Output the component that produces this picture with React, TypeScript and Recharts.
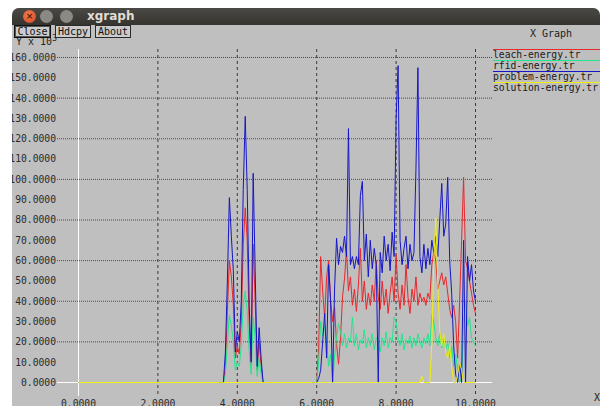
import React from "react";
import { LineChart, Line, XAxis, YAxis, CartesianGrid, Legend } from "recharts";

// simulation time (s)
const times = [
  0, 3.55, 3.6, 3.65, 3.7, 3.75, 3.8, 3.85, 3.9, 3.95,
  4, 4.05, 4.1, 4.15, 4.2, 4.25, 4.3, 4.35, 4.4, 4.45,
  4.5, 4.55, 4.6, 4.65, 4.7, 5.9,
  5.95, 6, 6.05, 6.1, 6.15, 6.2, 6.25, 6.3, 6.35, 6.4,
  6.45, 6.5, 6.55, 6.6, 6.65, 6.7, 6.75, 6.8, 6.85, 6.9,
  6.95, 7, 7.05, 7.1, 7.15, 7.2, 7.25, 7.3, 7.35, 7.4,
  7.45, 7.5, 7.55, 7.6, 7.65, 7.7, 7.75, 7.8, 7.85, 7.9,
  7.95, 8, 8.05, 8.1, 8.15, 8.2, 8.25, 8.3, 8.35, 8.4,
  8.45, 8.5, 8.55, 8.6, 8.65, 8.7, 8.75, 8.8, 8.85, 8.9,
  8.95, 9, 9.05, 9.1, 9.15, 9.2, 9.25, 9.3, 9.35, 9.4,
  9.45, 9.5, 9.55, 9.6, 9.65, 9.7, 9.75, 9.8, 9.85, 9.9,
  9.95, 10,
];

// energy values, Y x 10^3
const leach = [
  0, 0, 0, 0, 8, 35, 60, 52, 38, 12,
  18, 14, 30, 68, 86, 70, 28, 8, 68, 40,
  6, 20, 8, 0, 0, 0,
  0, 0, 17, 62, 45, 32, 52, 60, 40, 30,
  37, 19, 9, 22, 42, 51, 65, 45, 52, 38,
  46, 35, 48, 66, 40, 50, 36, 44, 38, 48,
  40, 60, 42, 36, 50, 38, 46, 34, 44, 52,
  40, 63, 44, 36, 48, 38, 58, 42, 34, 46,
  40, 52, 38, 44, 40, 42, 38, 44, 41, 58,
  64, 60, 46, 50, 54, 48, 52, 44, 36, 32,
  38, 30, 12, 40, 70, 101, 60, 56, 50, 44,
  38, 34,
];

const rfid = [
  0, 0, 0, 0, 4, 20, 33, 28, 20, 6,
  10, 8, 18, 38, 45, 35, 15, 4, 32, 22,
  3, 12, 4, 0, 0, 0,
  0, 0, 10, 30, 23, 28, 20, 8, 14, 0,
  13, 22, 29, 25, 18, 24, 17, 22, 20, 32,
  18, 24, 16, 21, 19, 26, 17, 22, 18, 24,
  16, 22, 20, 15, 22, 18, 25, 17, 22, 20,
  32, 30, 22, 18, 24, 16, 21, 19, 23, 17,
  22, 18, 24, 20, 17, 22, 19, 24, 18, 33,
  30, 22, 18, 24, 17, 22, 16, 20, 12, 18,
  8, 14, 6, 0, 2, 30, 40, 28, 32, 22,
  20, 18,
];

const problem = [
  0, 0, 0, 0, 15, 50, 91, 72, 55, 15,
  25, 20, 40, 95, 131, 95, 38, 10, 103, 55,
  8, 27, 12, 0, 0, 0,
  0, 0, 2, 6, 20, 34, 12, 58, 40, 0,
  46, 71, 58, 67, 64, 72, 62, 125, 58, 62,
  56, 62, 58, 92, 99, 60, 73, 52, 70, 56,
  66, 58, 0, 64, 54, 72, 60, 68, 55, 74,
  62, 130, 156, 70, 58, 66, 72, 56, 68, 60,
  64, 105, 155, 62, 54, 68, 56, 66, 58, 70,
  64, 72, 62, 80, 98, 72, 78, 101, 60, 44,
  18, 4, 0, 10, 0, 70, 0, 62, 50, 58,
  45, 40,
];

const solution = [
  0, 0, 0, 0, 0, 0, 0, 0, 0, 0,
  0, 0, 0, 0, 0, 0, 0, 0, 0, 0,
  0, 0, 0, 0, 0, 0,
  0, 0, 0, 0, 0, 0, 0, 0, 0, 0,
  0, 0, 0, 0, 0, 0, 0, 0, 0, 0,
  0, 0, 0, 0, 0, 0, 0, 0, 0, 0,
  0, 0, 0, 0, 0, 0, 0, 0, 0, 0,
  0, 0, 0, 0, 0, 0, 0, 0, 0, 0,
  0, 0, 0, 0, 3, 0, 0, 0, 0, 19,
  60, 81, 48, 25, 18, 24, 15, 12, 18, 8,
  0, 0, 4, 10, 6, 0, 0, 0, 0, 0,
  0, 0,
];

const seriesNames = ["leach-energy.tr", "rfid-energy.tr", "problem-energy.tr", "solution-energy.tr"];
const seriesKeys = ["leach", "rfid", "problem", "solution"];
const seriesColors = ["#e8282c", "#22e68c", "#1616c8", "#f0f010"];

const xTicks = [0, 2, 4, 6, 8, 10];
const yTicks = [0, 10, 20, 30, 40, 50, 60, 70, 80, 90, 100, 110, 120, 130, 140, 150, 160];

const data = times.map((t, i) => ({
  t,
  leach: leach[i],
  rfid: rfid[i],
  problem: problem[i],
  solution: solution[i],
}));

const mono = '"DejaVu Sans Mono", "Liberation Mono", monospace';

// keep xgraph's set order, not alphabetical
const renderLegend = (props: any) => {
  const items = [...(props.payload || [])].sort(
    (a: any, b: any) => seriesNames.indexOf(a.value) - seriesNames.indexOf(b.value)
  );
  return (
    <div style={{ font: `9.7px ${mono}`, color: "#1a1a1a" }}>
      {items.map((p: any) => (
        <div
          key={p.value}
          style={{
            borderTop: `1px solid ${seriesColors[seriesNames.indexOf(p.value)]}`,
            width: 107,
            height: 10,
            lineHeight: "9px",
            whiteSpace: "nowrap",
          }}
        >
          {p.value}
        </div>
      ))}
    </div>
  );
};

const btn: React.CSSProperties = {
  position: "absolute",
  top: 25,
  height: 11,
  border: "1px solid #2a2a2a",
  background: "#cbcbcb",
  font: `10px ${mono}`,
  lineHeight: "11px",
  color: "#111",
  textAlign: "center",
};

export default function App() {
  return (
    <div style={{ position: "absolute", left: 0, top: 0, width: 603, height: 406, background: "#fff", overflow: "hidden" }}>
      <div
        style={{
          position: "absolute",
          left: 12,
          top: 8,
          width: 588,
          height: 420,
          background: "#bfbfbf",
          borderRadius: "7px 7px 0 0",
          overflow: "hidden",
        }}
      >
        {/* page coordinates inside the window */}
        <div style={{ position: "absolute", left: -12, top: -8, width: 603, height: 420 }}>
          <LineChart width={603} height={420} data={data} margin={{ top: 49, right: 111, bottom: 4, left: 0 }}>
            <CartesianGrid
              vertical={false}
              horizontalValues={yTicks.slice(1)}
              stroke="#4a4a4a"
              strokeDasharray="1 1"
            />
            <CartesianGrid
              horizontal={false}
              verticalValues={xTicks.slice(1)}
              stroke="#3a3a3a"
              strokeDasharray="3 3"
            />
            <CartesianGrid horizontalValues={[0]} verticalValues={[0]} stroke="#ffffff" />
            <XAxis
              dataKey="t"
              type="number"
              domain={[-0.5416, 10.4156]}
              allowDataOverflow
              ticks={xTicks}
              tickFormatter={(v: number) => v.toFixed(4)}
              axisLine={false}
              tickLine={false}
              tickSize={0}
              tickMargin={4}
              height={20}
              tick={{ fill: "#2a2a2a", fontSize: 9.7, fontFamily: mono }}
            />
            <YAxis
              type="number"
              domain={[-6.646, 164.18]}
              allowDataOverflow
              ticks={yTicks}
              tickFormatter={(v: number) => v.toFixed(4)}
              axisLine={false}
              tickLine={false}
              tickSize={0}
              tickMargin={1}
              width={57}
              tick={{ fill: "#2a2a2a", fontSize: 9.7, fontFamily: mono }}
            />
            <Legend
              content={renderLegend}
              layout="vertical"
              align="center"
              verticalAlign="middle"
              wrapperStyle={{ left: 493, top: 49, width: 110, right: "auto", bottom: "auto" }}
            />
            {seriesKeys.map((k, i) => (
              <Line
                key={k}
                dataKey={k}
                name={seriesNames[i]}
                stroke={seriesColors[i]}
                strokeWidth={1}
                type="linear"
                dot={false}
                activeDot={false}
                isAnimationActive={false}
              />
            ))}
          </LineChart>

          <div style={{ position: "absolute", left: 16, top: 34, font: `10px ${mono}`, color: "#222" }}>
            Y x 10<sup style={{ fontSize: 8 }}>3</sup>
          </div>
          <div style={{ position: "absolute", left: 530, top: 28, font: `10px ${mono}`, color: "#222" }}>X Graph</div>
          <div style={{ position: "absolute", left: 594, top: 392, font: `10px ${mono}`, color: "#222" }}>X</div>

          <div style={{ ...btn, left: 14, width: 35, border: "1px solid #111", boxShadow: "inset 0 0 0 1px #555" }}>Close</div>
          <div style={{ ...btn, left: 55, width: 34 }}>Hdcpy</div>
          <div style={{ ...btn, left: 95, width: 34 }}>About</div>
        </div>

        {/* title bar */}
        <div
          style={{
            position: "absolute",
            left: 0,
            top: 0,
            width: 588,
            height: 17,
            background: "linear-gradient(#4a4945, #35342f)",
          }}
        >
          <div style={{ position: "absolute", left: 11, top: 2, width: 13, height: 13, borderRadius: 7, background: "radial-gradient(circle at 40% 35%, #f07a50, #d8481e)", color: "#5a1a08", font: "bold 9px 'DejaVu Sans'", textAlign: "center", lineHeight: "13px" }}>×</div>
          <div style={{ position: "absolute", left: 28, top: 2, width: 13, height: 13, borderRadius: 7, background: "#8a8984" }} />
          <div style={{ position: "absolute", left: 48, top: 2, width: 13, height: 13, borderRadius: 7, background: "#8a8984" }} />
          <div style={{ position: "absolute", left: 75, top: 1, font: "bold 12px 'DejaVu Sans'", color: "#e0ddd5", lineHeight: "15px" }}>xgraph</div>
        </div>
      </div>
    </div>
  );
}
